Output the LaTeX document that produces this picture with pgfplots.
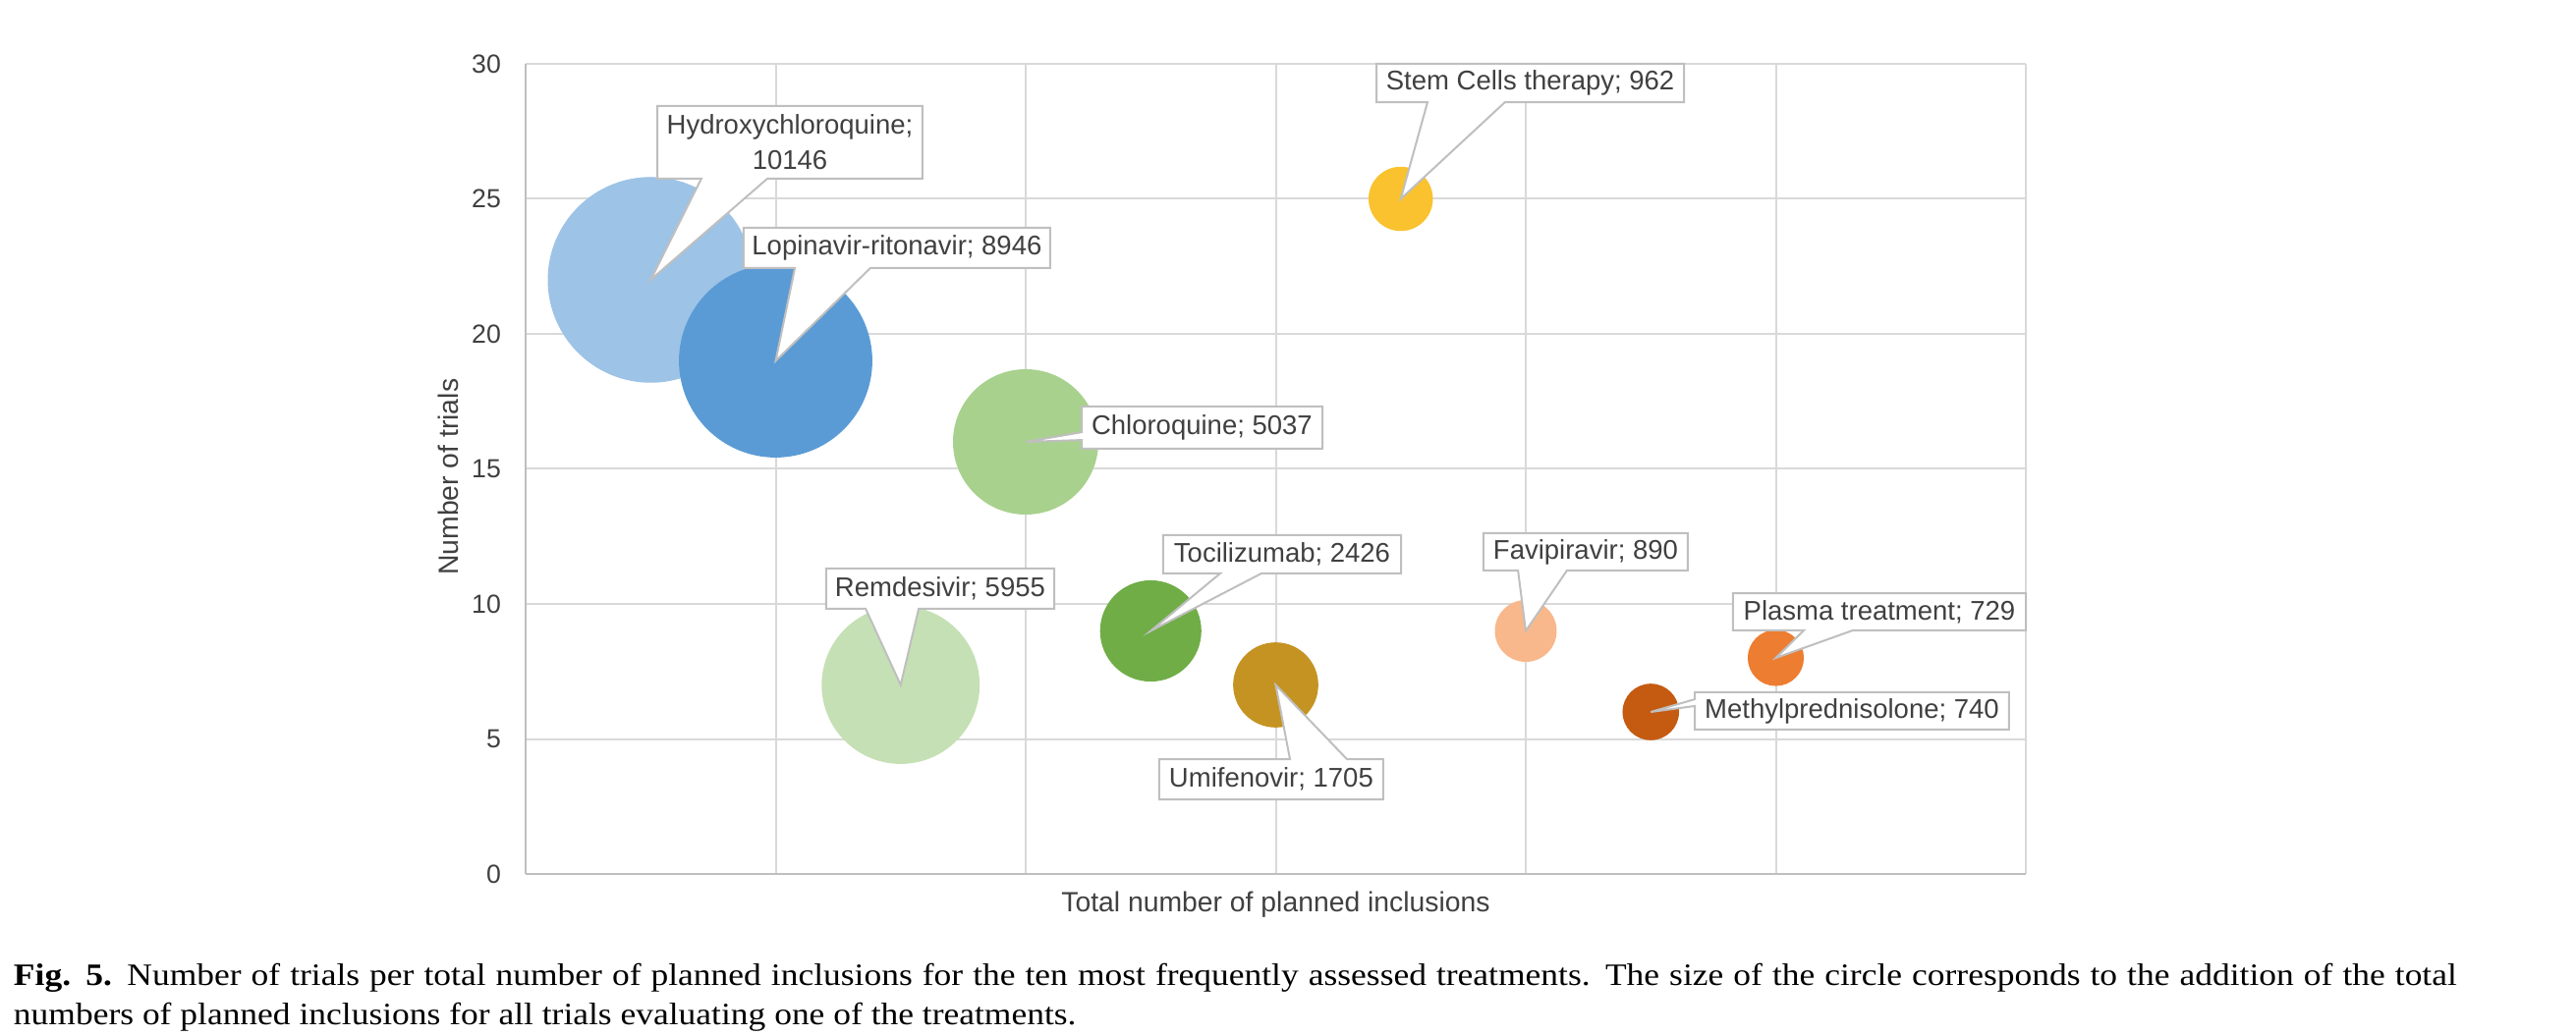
\documentclass[border=0pt]{standalone}
\usepackage{fontspec}
\usepackage{pgfplots}
\pgfplotsset{compat=1.18}
\setmainfont{Liberation Sans}
\newfontfamily\capfont[FakeStretch=1.12]{Liberation Serif}
\definecolor{gridc}{HTML}{D9D9D9}
\definecolor{axc}{HTML}{BFBFBF}
\definecolor{txt}{HTML}{404040}
\definecolor{callc}{HTML}{BFBFBF}
\definecolor{c1}{HTML}{9DC3E6}
\definecolor{c2}{HTML}{5B9BD5}
\definecolor{c3}{HTML}{A9D18E}
\definecolor{c4}{HTML}{C5E0B4}
\definecolor{c5}{HTML}{70AD47}
\definecolor{c6}{HTML}{C59322}
\definecolor{c7}{HTML}{F9C22E}
\definecolor{c8}{HTML}{F8B88B}
\definecolor{c9}{HTML}{ED7D31}
\definecolor{c10}{HTML}{C55A11}
\tikzset{
  callout/.style={fill=white, draw=callc, line width=0.6pt},
  ctext/.style={font=\fontsize{8.25}{10}\selectfont, text=txt, inner sep=0pt},
}
\newcommand{\callouts}{%
\draw[callout] (axis cs:0.527,28.44) -- (axis cs:1.587,28.44) -- (axis cs:1.587,25.75) -- (axis cs:0.967,25.75) -- (axis cs:0.5,22) -- (axis cs:0.703,25.75) -- (axis cs:0.527,25.75) -- cycle;
\node[ctext, align=center] at (axis cs:1.057,27.1) {Hydroxychloroquine;\\[1pt]10146};
\draw[callout] (axis cs:0.872,23.93) -- (axis cs:2.098,23.93) -- (axis cs:2.098,22.44) -- (axis cs:1.379,22.44) -- (axis cs:1,19) -- (axis cs:1.077,22.44) -- (axis cs:0.872,22.44) -- cycle;
\node[ctext] at (axis cs:1.485,23.185) {Lopinavir-ritonavir; 8946};
\draw[callout] (axis cs:2.224,17.31) -- (axis cs:3.187,17.31) -- (axis cs:3.187,15.75) -- (axis cs:2.224,15.75) -- (axis cs:2.224,16.07) -- (axis cs:2,16) -- (axis cs:2.224,16.36) -- cycle;
\node[ctext] at (axis cs:2.705,16.53) {Chloroquine; 5037};
\draw[callout] (axis cs:3.403,30.0) -- (axis cs:4.633,30.0) -- (axis cs:4.633,28.58) -- (axis cs:3.917,28.58) -- (axis cs:3.5,25) -- (axis cs:3.607,28.58) -- (axis cs:3.403,28.58) -- cycle;
\node[ctext] at (axis cs:4.018,29.29) {Stem Cells therapy; 962};
\draw[callout] (axis cs:1.202,11.31) -- (axis cs:2.114,11.31) -- (axis cs:2.114,9.82) -- (axis cs:1.572,9.82) -- (axis cs:1.5,7) -- (axis cs:1.360,9.82) -- (axis cs:1.202,9.82) -- cycle;
\node[ctext] at (axis cs:1.658,10.565) {Remdesivir; 5955};
\draw[callout] (axis cs:2.550,12.55) -- (axis cs:3.501,12.55) -- (axis cs:3.501,11.13) -- (axis cs:2.943,11.13) -- (axis cs:2.5,9) -- (axis cs:2.778,11.13) -- (axis cs:2.550,11.13) -- cycle;
\node[ctext] at (axis cs:3.0255,11.84) {Tocilizumab; 2426};
\draw[callout] (axis cs:2.534,4.25) -- (axis cs:3.057,4.25) -- (axis cs:3,7) -- (axis cs:3.285,4.25) -- (axis cs:3.430,4.25) -- (axis cs:3.430,2.76) -- (axis cs:2.534,2.76) -- cycle;
\node[ctext] at (axis cs:2.982,3.505) {Umifenovir; 1705};
\draw[callout] (axis cs:3.831,12.62) -- (axis cs:4.648,12.62) -- (axis cs:4.648,11.24) -- (axis cs:4.165,11.24) -- (axis cs:4,9) -- (axis cs:3.969,11.24) -- (axis cs:3.831,11.24) -- cycle;
\node[ctext] at (axis cs:4.2395,11.93) {Favipiravir; 890};
\draw[callout] (axis cs:4.829,10.4) -- (axis cs:6.0,10.4) -- (axis cs:6.0,9.02) -- (axis cs:5.308,9.02) -- (axis cs:5,8) -- (axis cs:5.112,9.02) -- (axis cs:4.829,9.02) -- cycle;
\node[ctext] at (axis cs:5.4145,9.71) {Plasma treatment; 729};
\draw[callout] (axis cs:4.676,6.73) -- (axis cs:5.933,6.73) -- (axis cs:5.933,5.35) -- (axis cs:4.676,5.35) -- (axis cs:4.676,6.22) -- (axis cs:4.5,6) -- (axis cs:4.676,6.47) -- cycle;
\node[ctext] at (axis cs:5.3045,6.04) {Methylprednisolone; 740};
}
\begin{document}
\begin{tikzpicture}
\path[use as bounding box] (0pt,0pt) rectangle (786.6pt,316.2pt);
\begin{axis}[
  at={(160.5pt,49.2pt)}, anchor=south west,
  scale only axis, width=458.1pt, height=247.5pt,
  xmin=0, xmax=6, ymin=0, ymax=30,
  xtick={0,1,...,6}, xticklabels={},
  ytick={0,5,...,30},
  grid=major, major grid style={gridc, line width=0.6pt},
  axis x line*=bottom, axis y line*=left,
  axis line style={draw=axc, line width=0.8pt},
  major tick length=0pt, tick style={draw=none},
  /pgf/number format/assume math mode=true,
  yticklabel style={font=\fontsize{8}{9}\selectfont, text=txt, xshift=-4pt},
  xlabel={Total number of planned inclusions},
  ylabel={Number of trials},
  xlabel style={at={(axis description cs:0.5,-0.0069)}, anchor=north, font=\fontsize{8.5}{10}\selectfont, text=txt},
  ylabel style={at={(axis description cs:-0.0517,0.49)}, anchor=center, font=\fontsize{8.5}{10}\selectfont, text=txt},
  clip=false,
  after end axis/.code={\callouts},
]
\addplot[scatter, only marks,
  scatter src=explicit symbolic,
  scatter/classes={
    a={mark=*, c1},
    b={mark=*, c2},
    c={mark=*, c3},
    d={mark=*, c4},
    e={mark=*, c5},
    f={mark=*, c6},
    g={mark=*, c7},
    h={mark=*, c8},
    i={mark=*, c9},
    j={mark=*, c10}},
  visualization depends on={0.31*sqrt(\thisrow{n}) \as \rad},
  scatter/@pre marker code/.append style={/tikz/mark size=\rad},
] table[x=x, y=y, meta=c] {
x y n c
0.5 22 10146 a
1 19 8946 b
2 16 5037 c
1.5 7 5955 d
2.5 9 2426 e
3 7 1705 f
3.5 25 962 g
4 9 890 h
5 8 729 i
4.5 6 740 j
};
\end{axis}
\node[anchor=base west, inner sep=0pt, font=\capfont\fontsize{9.5}{12}\selectfont] at (4pt,15.3pt)
  {\makebox[746pt][s]{\textbf{Fig. 5.} Number of trials per total number of planned inclusions for the ten most frequently assessed treatments. The size of the circle corresponds to the addition of the total}};
\node[anchor=base west, inner sep=0pt, font=\capfont\fontsize{9.5}{12}\selectfont] at (4pt,3.3pt)
  {numbers of planned inclusions for all trials evaluating one of the treatments.};
\end{tikzpicture}
\end{document}
